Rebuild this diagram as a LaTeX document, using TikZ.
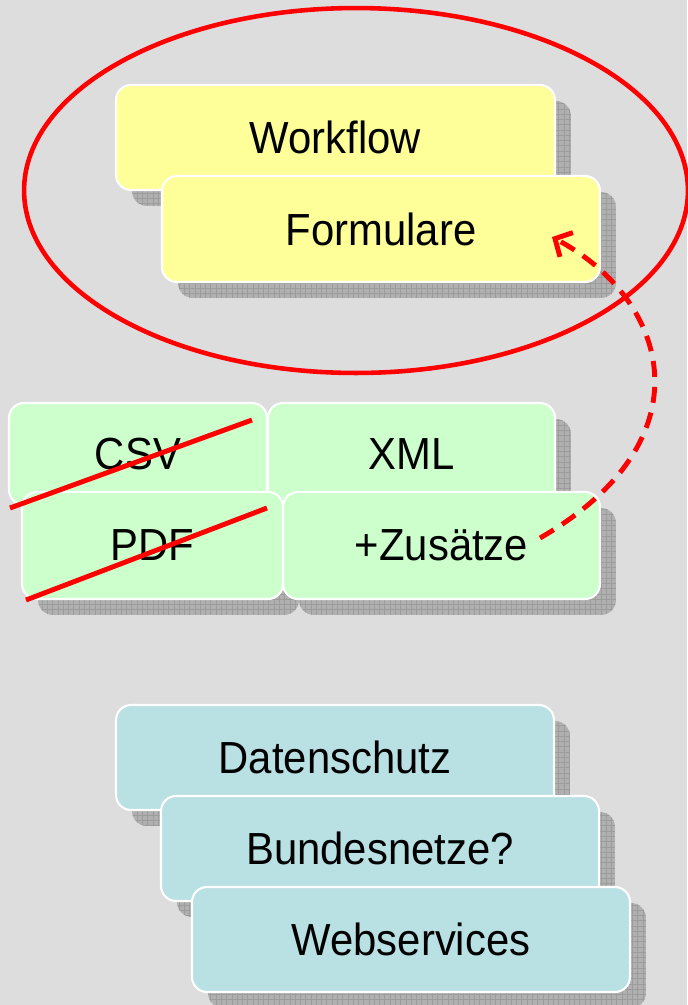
\documentclass[tikz,border=0pt]{standalone}
\usepackage{fontspec}
\setmainfont{Liberation Sans}[FakeStretch=0.93]
\usetikzlibrary{positioning,shapes.geometric,shadows,patterns,arrows.meta}

\definecolor{bggray}{HTML}{DDDDDD}
\definecolor{boxyellow}{HTML}{FFFF99}
\definecolor{boxgreen}{HTML}{CCFFCC}
\definecolor{boxteal}{HTML}{B9E0E3}
\definecolor{shadegray}{HTML}{B0B0B0}
\definecolor{gridgray}{HTML}{9C9C9C}

\tikzset{
  card/.style={rectangle, rounded corners=0.3cm, draw=white, line width=1.2pt,
    inner sep=0pt, minimum height=2.1cm, font=\fontsize{25.6}{30}\selectfont,
    drop shadow={shadow xshift=0.32cm, shadow yshift=-0.32cm, opacity=1,
      fill=shadegray, draw=none},
    drop shadow={shadow xshift=0.32cm, shadow yshift=-0.32cm, opacity=1,
      pattern=grid, pattern color=gridgray, draw=none}},
  strike/.style={draw=red, line width=2.8pt},
}

\begin{document}
\begin{tikzpicture}[x=0.02cm, y=-0.02cm]
    \fill[bggray] (0,0) rectangle (687,1005);
    \useasboundingbox (0,0) rectangle (687,1005);

    % oben
    \node[card, fill=boxyellow, minimum width=8.78cm] (wf) at (335.5,137.5) {Workflow};
    \node[card, fill=boxyellow, minimum width=8.76cm, minimum height=2.12cm] (form) at (381,229) {Formulare};

    % Mitte
    \node[card, fill=boxgreen, minimum width=5.16cm, minimum height=2.04cm] (csv) at (138,454) {CSV};
    \node[card, fill=boxgreen, minimum width=5.74cm, minimum height=2.04cm] (xml) at (411.5,454) {XML};
    \node[card, fill=boxgreen, minimum width=5.22cm, minimum height=2.14cm] (pdf) at (152.5,545.5) {PDF};
    \node[card, fill=boxgreen, minimum width=6.34cm, minimum height=2.14cm] (zus) at (441.5,545.5) {+Zusätze};

    % unten
    \node[card, fill=boxteal, minimum width=8.76cm] (daten) at (335,757.5) {Datenschutz};
    \node[card, fill=boxteal, minimum width=8.76cm] (bund) at (380,848.5) {Bundesnetze?};
    \node[card, fill=boxteal, minimum width=8.76cm] (web) at (411,939.5) {Webservices};

    % Markierung
    \node[ellipse, draw=red, line width=2.6pt, minimum width=13.28cm, minimum height=7.3cm] (focus) at (356,190.5) {};

    % gestrichen
    \draw[strike] (10,508) -- (252,420);
    \draw[strike] (26,600) -- (267,508);

    % Pfeil
    \coordinate (zusEnd) at (540,538);
    \coordinate (formEnd) at (552,237);
    \draw[red, line width=2.8pt, dash pattern=on 0.32cm off 0.2cm, -{Straight Barb[length=0.26cm, width=0.55cm]}]
        (zusEnd) .. controls (710,440) and (670,300) .. (formEnd);
\end{tikzpicture}
\end{document}
